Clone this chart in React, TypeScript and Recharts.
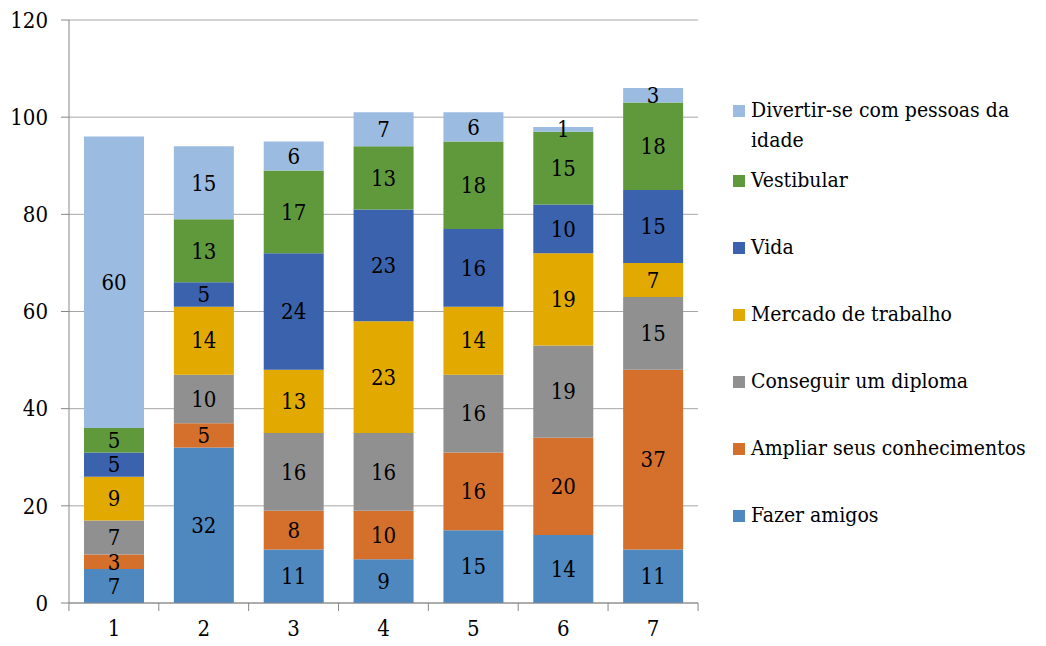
import { Bar, BarChart, CartesianGrid, LabelList, XAxis, YAxis } from "recharts";

const groups = ["1", "2", "3", "4", "5", "6", "7"];

const fazerAmigos = [7, 32, 11, 9, 15, 14, 11];
const ampliarConhecimentos = [3, 5, 8, 10, 16, 20, 37];
const conseguirDiploma = [7, 10, 16, 16, 16, 19, 15];
const mercadoTrabalho = [9, 14, 13, 23, 14, 19, 7];
const vida = [5, 5, 24, 23, 16, 10, 15];
const vestibular = [5, 13, 17, 13, 18, 15, 18];
const divertirSe = [60, 15, 6, 7, 6, 1, 3];

const yTicks = [0, 20, 40, 60, 80, 100, 120];

const FONT = "DejaVu Serif Condensed";

const series = [
  { key: "fazer", name: "Fazer amigos", values: fazerAmigos, color: "#4F88BF" },
  { key: "ampliar", name: "Ampliar seus conhecimentos", values: ampliarConhecimentos, color: "#D56F2C" },
  { key: "conseguir", name: "Conseguir um diploma", values: conseguirDiploma, color: "#909090" },
  { key: "mercado", name: "Mercado de trabalho", values: mercadoTrabalho, color: "#E2AA00" },
  { key: "vida", name: "Vida", values: vida, color: "#3B62AC" },
  { key: "vestibular", name: "Vestibular", values: vestibular, color: "#5F993C" },
  { key: "divertir", name: "Divertir-se com pessoas da idade", values: divertirSe, color: "#9BBBE0" },
];

const data = groups.map((g, i) => {
  const row: Record<string, string | number> = { group: g };
  series.forEach((s) => {
    row[s.key] = s.values[i];
  });
  return row;
});

// category ticks sit on the band edges, labels in the middle
const BAND = 90;
const XTick = (props: any) => {
  const { x, y, payload, index } = props;
  const last = index === groups.length - 1;
  return (
    <g>
      <line x1={x - BAND / 2} x2={x - BAND / 2} y1={y - 8} y2={y} stroke="#868686" />
      {last && <line x1={x + BAND / 2} x2={x + BAND / 2} y1={y - 8} y2={y} stroke="#868686" />}
      <text x={x} y={y + 25} textAnchor="middle" style={{ fontFamily: FONT }} fontSize={22} fill="#000">
        {payload.value}
      </text>
    </g>
  );
};

const LegendBox = () => {
  const items = [...series].reverse();
  return (
    <div
      style={{
        position: "absolute",
        left: 725,
        top: 87,
        width: 300,
        fontFamily: FONT,
        fontSize: 21,
        color: "#000",
      }}
    >
      {items.map((s, i) => (
        <div
          key={s.key}
          style={{
            display: "flex",
            alignItems: "flex-start",
            lineHeight: "30px",
            height: i === 0 ? 70 : 67,
          }}
        >
          <span
            style={{
              display: "inline-block",
              width: 12,
              height: 12,
              background: s.color,
              marginTop: 10,
              marginRight: 6,
              flexShrink: 0,
            }}
          />
          <span>{s.name}</span>
        </div>
      ))}
    </div>
  );
};

export default function App() {
  return (
    <div style={{ position: "relative", width: 1030, height: 638 }}>
      <BarChart
        width={1030}
        height={638}
        data={data}
        margin={{ top: 12, right: 340, bottom: 8, left: 0 }}
        barCategoryGap={15}
      >
        <CartesianGrid vertical={false} stroke="#A6A6A6" />
        <XAxis
          dataKey="group"
          height={35}
          axisLine={{ stroke: "#868686" }}
          tickLine={false}
          tick={<XTick />}
          interval={0}
        />
        <YAxis
          width={61}
          domain={[0, 120]}
          ticks={yTicks}
          axisLine={{ stroke: "#868686" }}
          tickLine={{ stroke: "#868686" }}
          tickSize={8}
          tickMargin={13}
          tick={{ style: { fontFamily: FONT }, fontSize: 22, fill: "#000" }}
        />
        {series.map((s) => (
          <Bar key={s.key} dataKey={s.key} name={s.name} stackId="a" fill={s.color} isAnimationActive={false}>
            <LabelList dataKey={s.key} position="center" fill="#000" style={{ fontFamily: FONT }} fontSize={22} />
          </Bar>
        ))}
      </BarChart>
      <LegendBox />
    </div>
  );
}
